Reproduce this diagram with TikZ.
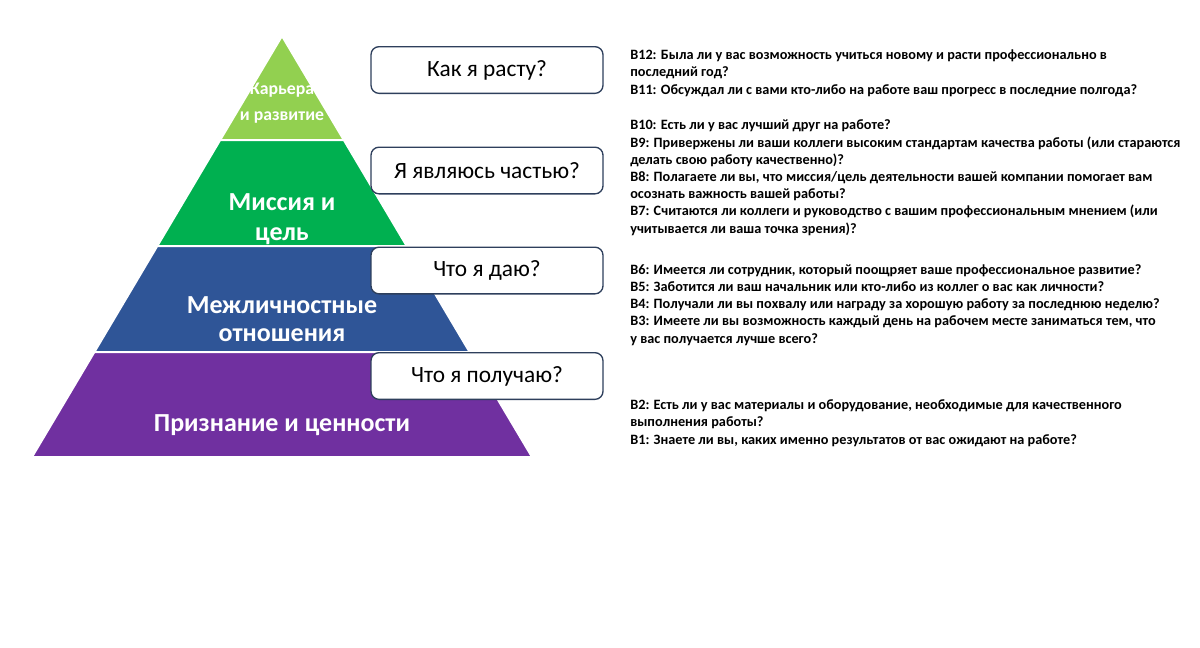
\documentclass[tikz,border=0pt]{standalone}
\usepackage{fontspec}
\setmainfont{Carlito}
\usepackage{tikz}

\definecolor{careergreen}{HTML}{92D050}
\definecolor{missiongreen}{HTML}{00B050}
\definecolor{relblue}{HTML}{2F5597}
\definecolor{valpurple}{HTML}{7030A0}
\definecolor{boxedge}{HTML}{2E3F5C}

\begin{document}
\begin{tikzpicture}[x=0.75pt,y=-0.75pt,
  level/.style={draw=white,line width=1.5pt},
  lvltext/.style={text=white,align=center,font=\bfseries\fontsize{19.5}{20.5}\selectfont},
  qbox/.style={draw=boxedge,fill=white,rounded corners=6pt,line width=1pt,
    minimum width=174pt,minimum height=35pt,font=\fontsize{17.5}{20}\selectfont},
  qlist/.style={anchor=base west,align=left,inner sep=0pt,
    font=\bfseries\fontsize{10.7}{12.9}\selectfont}]
  \useasboundingbox (0,0) rectangle (1200,647);
  % pyramid levels, top to bottom
  \filldraw[level,fill=careergreen] (282,36) -- (343.8,140) -- (220.2,140) -- cycle;
  \filldraw[level,fill=missiongreen] (220.2,140) -- (343.8,140) -- (406.7,246) -- (157.3,246) -- cycle;
  \filldraw[level,fill=relblue] (157.3,246) -- (406.7,246) -- (469.6,352) -- (94.4,352) -- cycle;
  \filldraw[level,fill=valpurple] (94.4,352) -- (469.6,352) -- (532,457) -- (32,457) -- cycle;
  \node[lvltext,font=\bfseries\fontsize{13.3}{20}\selectfont] (career) at (282,103) {Карьера\\и развитие};
  \node[lvltext,font=\bfseries\fontsize{19.5}{22}\selectfont] (mission) at (282,219) {Миссия и\\цель};
  \node[lvltext] (relations) at (282,319) {Межличностные\\отношения};
  \node[lvltext] (values) at (282,425) {Признание и ценности};
  % question boxes
  \node[qbox] (grow) at (487,70) {Как я расту?};
  \node[qbox] (belong) at (487,170.5) {Я являюсь частью?};
  \node[qbox] (give) at (487,270.5) {Что я даю?};
  \node[qbox] (get) at (487,376) {Что я получаю?};
  % survey items (anchored at the last line)
  \node[qlist] (items12) at (630,94) {В12: Была ли у вас возможность учиться новому и расти профессионально в\\
    последний год?\\
    В11: Обсуждал ли с вами кто-либо на работе ваш прогресс в последние полгода?};
  \node[qlist] (items10) at (630,233) {В10: Есть ли у вас лучший друг на работе?\\
    В9: Привержены ли ваши коллеги высоким стандартам качества работы (или стараются\\
    делать свою работу качественно)?\\
    В8: Полагаете ли вы, что миссия/цель деятельности вашей компании помогает вам\\
    осознать важность вашей работы?\\
    В7: Считаются ли коллеги и руководство с вашим профессиональным мнением (или\\
    учитывается ли ваша точка зрения)?};
  \node[qlist] (items6) at (630,343) {В6: Имеется ли сотрудник, который поощряет ваше профессиональное развитие?\\
    В5: Заботится ли ваш начальник или кто-либо из коллег о вас как личности?\\
    В4: Получали ли вы похвалу или награду за хорошую работу за последнюю неделю?\\
    В3: Имеете ли вы возможность каждый день на рабочем месте заниматься тем, что\\
    у вас получается лучше всего?};
  \node[qlist] (items2) at (630,444) {В2: Есть ли у вас материалы и оборудование, необходимые для качественного\\
    выполнения работы?\\
    В1: Знаете ли вы, каких именно результатов от вас ожидают на работе?};
\end{tikzpicture}
\end{document}
